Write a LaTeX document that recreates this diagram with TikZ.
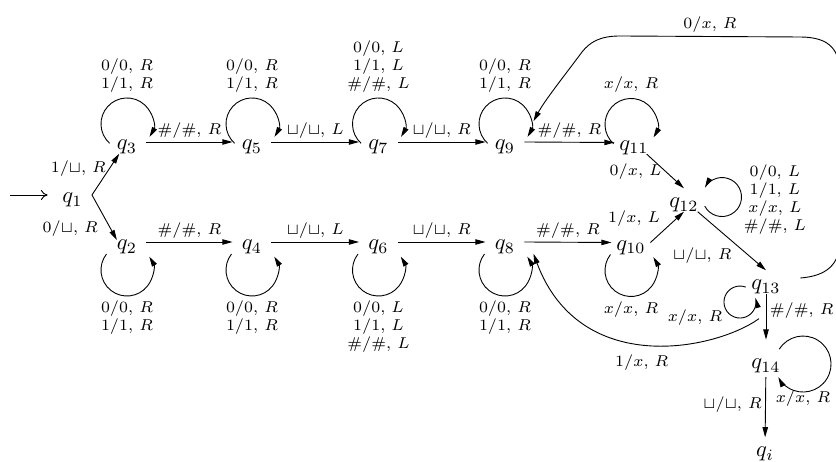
\documentclass[tikz,border=0pt]{standalone}
\usetikzlibrary{arrows.meta}
\begin{document}
\begin{tikzpicture}[x=0.4444pt, y=0.4444pt,
  st/.style={rectangle, inner sep=0pt, minimum width=16.9pt, minimum height=10pt, text height=7.1pt, text depth=0pt},
  lab/.style={font=\scriptsize, inner sep=1.5pt},
  llab/.style={font=\scriptsize, inner sep=1pt, align=center},
  >={Triangle[length=4.5pt,width=2.4pt]},
  tr/.style={->, line width=0.4pt},
]
\useasboundingbox (0,0) rectangle (836,-462);

% states
\node[st] (q1) at (72.5,-195) {$q_1$};
\node[st] (q3) at (127,-142) {$q_3$};
\node[st] (q5) at (252,-142) {$q_5$};
\node[st] (q7) at (378.5,-142) {$q_7$};
\node[st] (q9) at (505,-142) {$q_9$};
\node[st] (q11) at (634,-142.5) {$q_{11}$};
\node[st] (q2) at (127,-242) {$q_2$};
\node[st] (q4) at (252,-242) {$q_4$};
\node[st] (q6) at (378.5,-242) {$q_6$};
\node[st] (q8) at (505,-242) {$q_8$};
\node[st] (q10) at (631,-242.5) {$q_{10}$};
\node[st] (q12) at (684,-200) {$q_{12}$};
\node[st] (q13) at (766,-282) {$q_{13}$};
\node[st] (q14) at (766,-361) {$q_{14}$};
\node[st] (qi) at (765,-449) {$q_i$};
\coordinate (s) at (10,-195);

% initial arrow
\draw[-{To[length=3pt,width=4.5pt]}, line width=0.4pt, shorten >=2.4pt] (s) -- (q1.west);

% from q1
\draw[tr] (q1.east) -- node[lab, pos=0.65, left]{$1/{\sqcup}$, $R$} (q3);
\draw[tr] (q1.east) -- node[lab, pos=0.75, left=4pt]{$0/{\sqcup}$, $R$} ([xshift=-4.5pt, yshift=0.9pt]q2.center);

% top row
\draw[tr] (q3.east) -- node[lab, above]{$\#/\#$, $R$} (q5.west);
\draw[tr] (q5.east) -- node[lab, above]{${\sqcup}/{\sqcup}$, $L$} (q7.west);
\draw[tr] (q7.east) -- node[lab, above]{${\sqcup}/{\sqcup}$, $R$} (q9.west);
\draw[tr] (q9.east) -- node[lab, above]{$\#/\#$, $R$} (q11.west);

% bottom row
\draw[tr] (q2.east) -- node[lab, above]{$\#/\#$, $R$} (q4.west);
\draw[tr] (q4.east) -- node[lab, above]{${\sqcup}/{\sqcup}$, $L$} (q6.west);
\draw[tr] (q6.east) -- node[lab, above]{${\sqcup}/{\sqcup}$, $R$} (q8.west);
\draw[tr] (q8.east) -- node[lab, above]{$\#/\#$, $R$} (q10.west);

% right part
\draw[tr] (q11) -- node[lab, pos=0.5, left]{$0/x$, $L$} (q12.north);
\draw[tr] (q10.east) -- node[lab, pos=0.4, above left=0pt]{$1/x$, $L$} (q12.south);
\draw[tr] (q12) -- node[lab, pos=0.55, below left]{${\sqcup}/{\sqcup}$, $R$} (q13.north);
\draw[tr, shorten >=4.3pt] (q13) -- node[lab, pos=0.3, right]{$\#/\#$, $R$} (q14);
\draw[tr, shorten <=2pt] (q14) -- node[lab, pos=0.5, left]{${\sqcup}/{\sqcup}$, $R$} (qi);

% long curves
\draw[tr] ([shift={(-7,-25)}]q13.south) .. controls (715,-350) and (580,-378) .. node[lab, pos=0.52, below=3pt]{$1/x$, $R$} ([xshift=4pt]q8.south east);
\draw[tr] ([shift={(15,4)}]q13.east) .. controls (826,-276) and (840,-265) .. (840,-240) -- (840,-75) .. controls (840,-50) and (830,-37) .. (800,-37) -- node[lab, above]{$0/x$, $R$} (620,-36) .. controls (600,-36) and (590,-42) .. (582,-52) .. controls (565,-75) and (545,-100) .. ([shift={(4pt,4pt)}]q9.north east);

% top loops
\foreach \n in {q3,q5,q7,q9}{
  \draw[tr] ([shift={(-17.4,-1.3)}]\n.center) arc[start angle=228, end angle=-30, radius=26];
}
\draw[tr] ([shift={(-20.4,-1.3)}]q11.center) arc[start angle=228, end angle=-30, radius=26];
% bottom loops
\foreach \n in {q2,q4,q6,q8,q10}{
  \draw[tr] ([shift={(-20.5,-12)}]\n.center) arc[start angle=142, end angle=391, radius=26];
}
\draw[tr] ([shift={(20.8,-6.2)}]q12.center) arc[start angle=208, end angle=511, radius=19.5];
\draw[tr] ([shift={(-20.3,-5.1)}]q13.center) arc[start angle=69, end angle=375, radius=16];
\draw[tr] ([shift={(13.3,11.8)}]q14.center) arc[start angle=148, end angle=-152, radius=28];

% loop labels
\node[llab, anchor=south] (l3) at ([yshift=15.8pt]q3.north) {$0/0$, $R$\\$1/1$, $R$};
\node[llab, anchor=south] (l5) at ([yshift=15.8pt]q5.north) {$0/0$, $R$\\$1/1$, $R$};
\node[llab, anchor=south] (l7) at ([yshift=15.8pt]q7.north) {$0/0$, $L$\\$1/1$, $L$\\$\#/\#$, $L$};
\node[llab, anchor=south] (l9) at ([yshift=15.8pt]q9.north) {$0/0$, $R$\\$1/1$, $R$};
\node[llab, anchor=south] (l11) at ([shift={(-1.3pt,15.8pt)}]q11.north) {$x/x$, $R$};
\node[llab, anchor=north] (l2) at ([yshift=-19.8pt]q2.south) {$0/0$, $R$\\$1/1$, $R$};
\node[llab, anchor=north] (l4) at ([yshift=-19.8pt]q4.south) {$0/0$, $R$\\$1/1$, $R$};
\node[llab, anchor=north] (l6) at ([yshift=-19.8pt]q6.south) {$0/0$, $L$\\$1/1$, $L$\\$\#/\#$, $L$};
\node[llab, anchor=north] (l8) at ([yshift=-19.8pt]q8.south) {$0/0$, $R$\\$1/1$, $R$};
\node[llab, anchor=north] (l10) at ([yshift=-19.8pt]q10.south) {$x/x$, $R$};
\node[llab] (l12) at ([xshift=40.4pt]q12.center) {$0/0$, $L$\\$1/1$, $L$\\$x/x$, $L$\\$\#/\#$, $L$};
\node[llab] (l13) at ([shift={(-71,-36)}]q13.center) {$x/x$, $R$};
\node[llab] (l14) at ([shift={(37,-38)}]q14.center) {$x/x$, $R$};
\end{tikzpicture}
\end{document}
